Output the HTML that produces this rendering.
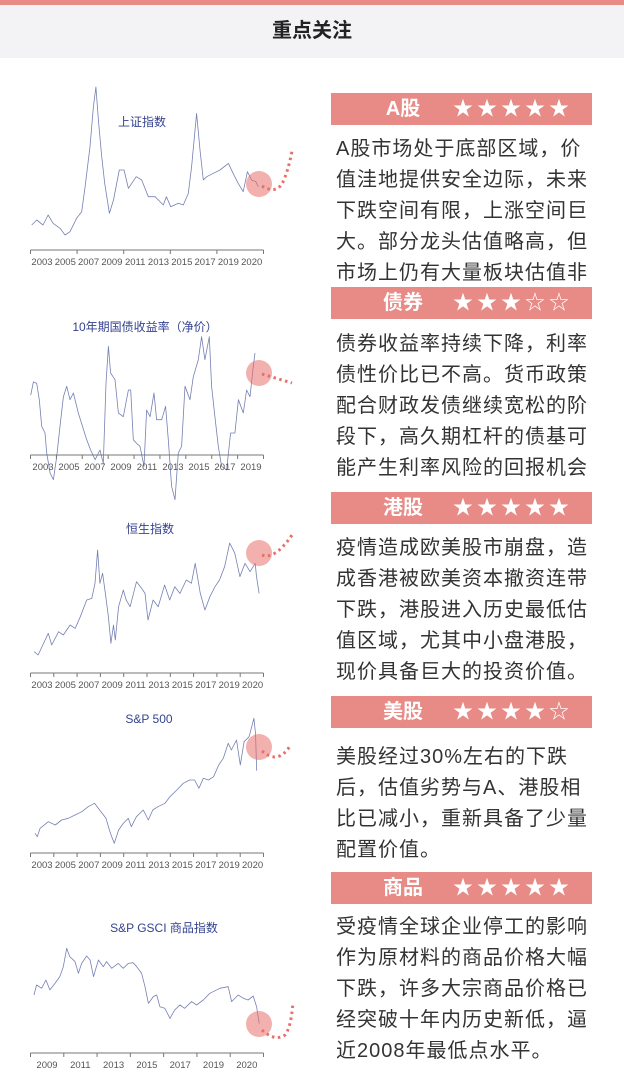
<!DOCTYPE html>
<html><head><meta charset="utf-8">
<style>
*{margin:0;padding:0;box-sizing:border-box}
body{width:624px;height:1079px;overflow:hidden;background:#fff;position:relative;font-family:"Liberation Sans","Noto Sans CJK SC",sans-serif}
.topbar{position:absolute;left:0;top:0;width:624px;height:5px;background:#e88a86}
.band{position:absolute;left:0;top:5px;width:624px;height:53px;background:#f3f3f5;text-align:center;font-size:20px;font-weight:bold;color:#222;line-height:53px}
.hdr{position:absolute;left:331px;width:261px;height:32px;background:#e88a86;color:#fff}
.hdr .t{position:absolute;left:40px;width:64px;text-align:center;top:0;line-height:32px;font-size:20px;font-weight:bold}
.hdr .s{position:absolute;left:122px;top:0;line-height:32px;font-size:20px;letter-spacing:4px}
.txt{position:absolute;left:336px;width:260px;font-size:20px;line-height:31px;color:#333;letter-spacing:1px;overflow:hidden}
svg{position:absolute;left:0;top:0}
</style></head><body>
<div class="topbar"></div>
<div class="band">重点关注</div>

<div class="hdr" style="top:93px"><span class="t">A股</span><span class="s">★★★★★</span></div>
<div class="txt" style="top:134px;height:149px">A股市场处于底部区域，价<br>值洼地提供安全边际，未来<br>下跌空间有限，上涨空间巨<br>大。部分龙头估值略高，但<br>市场上仍有大量板块估值非常低</div>

<div class="hdr" style="top:287px"><span class="t">债券</span><span class="s">★★★☆☆</span></div>
<div class="txt" style="top:329px;height:155px">债券收益率持续下降，利率<br>债性价比已不高。货币政策<br>配合财政发债继续宽松的阶<br>段下，高久期杠杆的债基可<br>能产生利率风险的回报机会</div>

<div class="hdr" style="top:492px"><span class="t">港股</span><span class="s">★★★★★</span></div>
<div class="txt" style="top:533px;height:160px">疫情造成欧美股市崩盘，造<br>成香港被欧美资本撤资连带<br>下跌，港股进入历史最低估<br>值区域，尤其中小盘港股，<br>现价具备巨大的投资价值。</div>

<div class="hdr" style="top:696px"><span class="t">美股</span><span class="s">★★★★☆</span></div>
<div class="txt" style="top:742px;height:130px">美股经过30%左右的下跌<br>后，估值劣势与A、港股相<br>比已减小，重新具备了少量<br>配置价值。</div>

<div class="hdr" style="top:872px"><span class="t">商品</span><span class="s">★★★★★</span></div>
<div class="txt" style="top:912px;height:160px">受疫情全球企业停工的影响<br>作为原材料的商品价格大幅<br>下跌，许多大宗商品价格已<br>经突破十年内历史新低，逼<br>近2008年最低点水平。</div>

<svg id="charts" width="330" height="1079"></svg>

<script>
// Chart 1: 上证指数
const shYears=[2002.3,2002.7,2003.2,2003.6,2004.0,2004.55,2004.95,2005.34,2005.87,2006.27,2006.54,2006.93,2007.2,2007.4,2007.6,2007.86,2008.1,2008.47,2008.8,2009.26,2009.63,2009.98,2010.6,2011.04,2011.56,2012.1,2012.75,2013.0,2013.34,2013.95,2014.34,2014.74,2015.0,2015.4,2015.67,2015.93,2016.2,2016.73,2017.26,2017.92,2018.3,2018.7,2019.1,2019.43,2019.77,2020.1,2020.3];
const shValues=[1345,1517,1345,1689,1402,1230,1000,1115,1574,1804,2665,4044,5422,6100,4963,3700,2780,1747,2206,3240,3240,2608,3010,2894,2320,2320,2034,2320,1976,2091,2034,2435,3355,5192,3929,2895,3010,3125,3240,3469,3125,2780,2493,3182,2894,2837,2665];
const shTicks=["2003","2005","2007","2009","2011","2013","2015","2017","2019","2020"];
// Chart 2: 10年期国债收益率
const bondYears=[2002.0,2002.21,2002.47,2002.68,2002.87,2003.13,2003.26,2003.53,2003.79,2004.05,2004.31,2004.58,2004.84,2005.1,2005.37,2005.76,2006.42,2006.73,2007.08,2007.47,2007.73,2007.94,2008.13,2008.31,2008.65,2008.92,2009.31,2009.71,2009.89,2010.1,2010.36,2010.63,2010.94,2011.15,2011.42,2011.73,2011.94,2012.34,2012.65,2012.86,2013.12,2013.39,2013.65,2013.91,2014.18,2014.57,2014.83,2015.23,2015.49,2015.75,2016.1,2016.28,2016.54,2016.81,2017.07,2017.46,2017.78,2018.12,2018.39,2018.78,2019.04,2019.31,2019.57,2019.7];
const bondValues=[4.01,4.19,4.17,3.95,3.59,3.50,3.23,2.96,2.87,3.18,3.59,3.99,4.13,3.95,4.04,3.77,3.41,3.27,3.14,3.27,3.09,4.17,4.67,4.31,4.22,3.77,3.72,4.08,4.08,3.41,3.36,3.32,3.05,3.81,3.72,4.04,3.68,3.68,3.86,3.41,2.78,2.60,3.23,3.32,4.13,3.95,4.26,4.49,4.80,4.49,4.80,4.13,3.72,3.32,3.05,3.00,3.50,3.50,3.95,3.77,4.08,3.99,4.40,4.58];
const bondTicks=["2003","2005","2007","2009","2011","2013","2015","2017","2019"];
// Chart 3: 恒生指数
const hsYears=[2002.7,2003.0,2003.8,2004.06,2004.6,2004.97,2005.5,2005.9,2006.3,2006.8,2007.2,2007.45,2007.66,2007.84,2008.05,2008.3,2008.5,2008.7,2008.9,2009.04,2009.3,2009.67,2009.9,2010.2,2010.7,2011.1,2011.37,2011.6,2012.0,2012.4,2012.9,2013.3,2013.7,2014.1,2014.6,2015.0,2015.3,2015.7,2016.06,2016.45,2016.85,2017.2,2017.6,2018.0,2018.4,2018.8,2019.2,2019.6,2020.0,2020.1,2020.3];
const hsValues=[9710,9000,13650,11140,14000,13290,15430,14710,17210,20780,21140,24360,31500,24360,26500,21500,17210,11500,15430,12210,19350,22930,20780,19350,24710,23290,22210,16500,20780,19350,24000,20780,23640,22210,25070,24360,28640,22210,18640,21500,23640,25070,27930,33000,30790,25790,28640,26860,28640,25790,22210];
const hsTicks=["2003","2005","2007","2009","2011","2013","2015","2017","2019","2020"];
// Chart 4: S&P 500
const spYears=[2002.8,2002.98,2003.2,2003.85,2004.4,2004.9,2005.43,2005.96,2006.5,2007.0,2007.5,2007.9,2008.4,2008.67,2008.85,2009.06,2009.4,2009.77,2010.16,2010.4,2010.8,2011.35,2011.74,2012.1,2012.5,2013.06,2013.45,2014.0,2014.5,2015.0,2015.4,2015.74,2016.08,2016.5,2016.9,2017.3,2017.66,2018.05,2018.3,2018.7,2019.0,2019.3,2019.7,2020.08,2020.2,2020.3];
const spValues=[920,848,1025,1165,1095,1200,1236,1306,1376,1481,1552,1411,1236,990,848,709,990,1130,1236,1059,1270,1411,1200,1411,1481,1552,1692,1833,1975,2044,2044,1869,2080,2044,2114,2360,2502,2819,2677,2888,2360,2853,2958,3346,3029,2240];
const spTicks=["2003","2005","2007","2009","2011","2013","2015","2017","2019","2020"];
// Chart 5: S&P GSCI
const gsYears=[2008.9,2009.03,2009.29,2009.5,2009.7,2009.96,2010.2,2010.38,2010.55,2010.7,2010.97,2011.14,2011.3,2011.56,2011.73,2011.9,2012.15,2012.4,2012.56,2012.82,2013.15,2013.4,2013.66,2013.9,2014.08,2014.33,2014.5,2014.67,2014.92,2015.09,2015.25,2015.5,2015.76,2016.0,2016.26,2016.5,2016.85,2017.1,2017.44,2017.77,2018.28,2018.7,2018.87,2019.2,2019.46,2019.7,2019.96,2020.13,2020.26];
const gsValues=[466,529,508,560,498,539,581,643,758,706,675,602,664,710,685,581,685,643,675,633,664,633,664,668,643,602,518,414,456,466,393,383,320,373,404,383,425,404,435,477,508,518,425,466,446,435,460,393,289];
const gsTicks=["2009","2011","2013","2015","2017","2019","2020"];

const NS="http://www.w3.org/2000/svg";
const svg=document.getElementById('charts');
function mk(tag,attrs,parent){const e=document.createElementNS(NS,tag);for(const k in attrs)e.setAttribute(k,attrs[k]);(parent||svg).appendChild(e);return e;}

function chart(cfg,years,values,ticks){
  const g=mk('g',{});
  
  
  const xS=y=>cfg.x0+(y-cfg.y0)*cfg.kx;
  const yS=v=>cfg.p0+(cfg.v0-v)*cfg.ky;
  const t=mk('text',{x:cfg.tx,y:cfg.ty,'text-anchor':'middle','font-size':'12',fill:'#34438f','font-family':'"Liberation Sans","Noto Sans CJK SC",sans-serif'},g);
  t.textContent=cfg.title;
  
  
  const pts=years.map((y,i)=>xS(y).toFixed(1)+','+yS(values[i]).toFixed(1)).join(' ');
  const line=mk('polyline',{points:pts,fill:'none',stroke:'#3a4a93','stroke-width':'0.8','stroke-opacity':'0.7','stroke-linejoin':'round'},g);
  
  
  const ax=mk('line',{x1:30.5,x2:263.5,y1:cfg.ay,y2:cfg.ay,stroke:'#777','stroke-width':'1'},g);
  
  
  for(let i=0;i<cfg.nt;i++){const x=30.5+i*233/(cfg.nt-1);mk('line',{x1:x,x2:x,y1:cfg.ay,y2:cfg.ay+4,stroke:'#777','stroke-width':'1'},g);}
  ticks.forEach((lb,i)=>{
    const x=cfg.l0+i*cfg.ld;
    const tt=mk('text',{x:x,y:cfg.ay+15,'text-anchor':'middle','font-size':'9.5',fill:'#555','font-family':'"Liberation Sans",sans-serif'},g);
    tt.textContent=lb;
    
    
  });
  const c=mk('circle',{cx:cfg.cx,cy:cfg.cy,r:13,fill:'#e8706c','fill-opacity':'0.55'},g);
  
  
  const p=mk('path',{d:cfg.dots,fill:'none',stroke:'#e8706c','stroke-width':'3','stroke-dasharray':'2.5 3.5'},g);
  
  
}
chart({name:'shanghai-index-chart',title:'上证指数',tx:142,ty:126,x0:31.7,y0:2002.3,kx:12.59,p0:87,v0:6100,ky:0.02902,ay:250,nt:6,l0:42,ld:23.3,cx:259,cy:184,dots:'M262,186 Q275,194 282,184 Q288,172 292,151'},shYears,shValues,shTicks);
chart({name:'bond-yield-chart',title:'10年期国债收益率（净价）',tx:145,ty:331,x0:30.7,y0:2002,kx:12.67,p0:336.7,v0:4.8,ky:74.07,ay:455,nt:10,l0:43,ld:26,cx:259,cy:373,dots:'M262,374 L292,383'},bondYears,bondValues,bondTicks);
chart({name:'hang-seng-chart',title:'恒生指数',tx:150,ty:533,x0:34.3,y0:2002.7,kx:12.77,p0:543,v0:33000,ky:0.004667,ay:673,nt:11,l0:42,ld:23.4,cx:259,cy:553,dots:'M262,555 Q275,560 292,535'},hsYears,hsValues,hsTicks);
chart({name:'sp500-chart',title:'S&P 500',tx:149,ty:723,x0:35,y0:2002.8,kx:12.67,p0:716.7,v0:3380,ky:0.0474,ay:853,nt:11,l0:42,ld:23.4,cx:259,cy:747,dots:'M262,751 Q278,765 290,746'},spYears,spValues,spTicks);
chart({name:'gsci-chart',title:'S&P GSCI 商品指数',tx:164,ty:932,x0:34,y0:2008.9,kx:19.82,p0:948,v0:760,ky:0.16,ay:1053,nt:8,l0:47,ld:33.3,cx:259,cy:1024,dots:'M262,1030 Q275,1042 285,1035 Q291,1028 293,1002'},gsYears,gsValues,gsTicks);
</script>
</body></html>
